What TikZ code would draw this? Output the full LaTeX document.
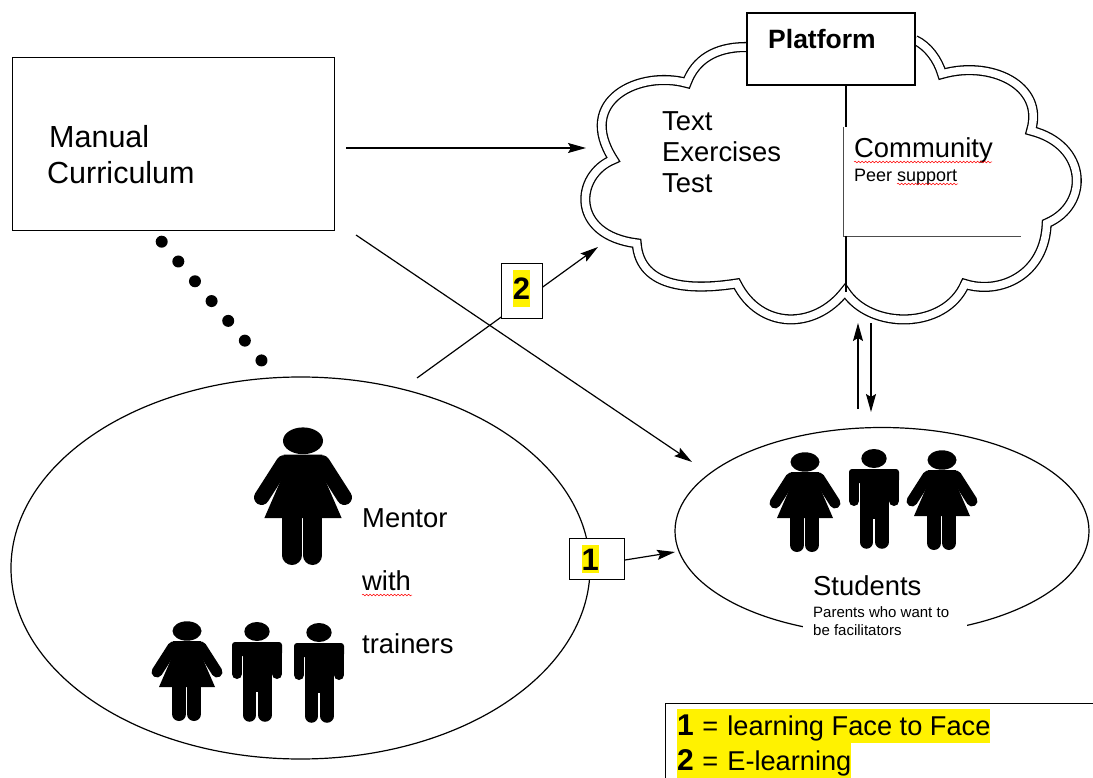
\documentclass[tikz,border=0pt]{standalone}
\usepackage{fontspec}
\setmainfont{Liberation Sans}
\usetikzlibrary{arrows.meta,shapes.geometric,decorations.pathmorphing}
\tikzset{
  bigtxt/.style={anchor=base west,inner sep=0pt,font=\fontsize{27.4}{32}\selectfont},
  smalltxt/.style={anchor=base west,inner sep=0pt,font=\fontsize{15}{18}\selectfont},
  arrow/.style={line width=1.2pt,-{Stealth[length=18pt,width=10pt,inset=3pt]}},
  numbox/.style={draw,fill=white,line width=0.8pt,minimum width=#1,inner sep=0pt},
  numtxt/.style={fill=yellow,inner sep=0pt,anchor=base,font=\fontsize{31}{36}\bfseries\selectfont},
  keyrow/.style={fill=yellow,inner sep=0pt,anchor=base west,text depth=8pt,font=\fontsize{27.2}{32}\selectfont},
  spell/.style={red,line width=0.5pt,decorate,decoration={snake,amplitude=0.8pt,segment length=3.5pt}},
  pics/woman/.style={code={
    \begin{scope}[scale=#1]
    \fill (0,10) ellipse [x radius=14.5,y radius=9.7];
    \fill (-14,20)--(14,20)--(15.7,37.7)--(28,66)--(-28,66)--(-15.7,37.7)--cycle;
    \draw[line width=#1*11pt,line cap=round] (-14,26)--(-30,51);
    \draw[line width=#1*11pt,line cap=round] (14,26)--(30,51);
    \draw[line width=#1*14pt,line cap=round] (-8,60)--(-8,93);
    \draw[line width=#1*14pt,line cap=round] (7,60)--(7,93);
    \end{scope}
  }},
  pics/man/.style={code={
    \begin{scope}[scale=#1]
    \fill (0,9.5) ellipse [x radius=12.7,y radius=9.5];
    \fill[rounded corners=3] (-25,20) rectangle (25,34);
    \fill (-14,25) rectangle (15,70);
    \draw[line width=#1*10pt,line cap=round] (-20,25)--(-20,52);
    \draw[line width=#1*10pt,line cap=round] (20,25)--(20,52);
    \draw[line width=#1*13.5pt,line cap=round] (-7.5,60)--(-7.5,93);
    \draw[line width=#1*13.5pt,line cap=round] (8,60)--(8,93);
    \end{scope}
  }}
}
\begin{document}
\begin{tikzpicture}[x=1pt,y=-1pt]
\useasboundingbox (0,0) rectangle (1093,778);
% cloud
\draw[line width=1.3pt,double=white,double distance=7.5pt,line join=miter]
  (746,47) .. controls (715,47) and (695,60) .. (686.7,83)
  .. controls (640,70) and (575,100) .. (613.3,159.5)
  .. controls (575,175) and (570,235) .. (636.7,243.3)
  .. controls (640,290) and (695,290) .. (736.7,283.5)
  .. controls (760,330) and (815,330) .. (845,291)
  .. controls (870,330) and (945,330) .. (965,284)
  .. controls (1000,295) and (1045,275) .. (1046.7,223.3)
  .. controls (1090,205) and (1088,145) .. (1031,130.7)
  .. controls (1045,85) and (990,60) .. (942,74)
  .. controls (938,60) and (928,46) .. (915,40);
% main shapes
\node[draw,line width=1pt,minimum width=322pt,minimum height=173pt,inner sep=0pt] (curriculum) at (173,144) {};
\node[draw,line width=2pt,fill=white,minimum width=168pt,minimum height=72pt,inner sep=0pt] (platform) at (831,49) {};
\node[draw,ellipse,line width=1.2pt,minimum width=579pt,minimum height=382pt,inner sep=0pt] (mentors) at (300.5,568) {};
\node[draw,ellipse,line width=1.2pt,minimum width=414pt,minimum height=207pt,inner sep=0pt] (students) at (882,531) {};
\node[fill=white,minimum width=164pt,minimum height=60pt,inner sep=0pt] (gap) at (885,620) {};
% community
\coordinate (commtop) at (843,127);
\coordinate (commcorner) at (843,236);
\coordinate (commend) at (1021,236);
\draw[line width=0.8pt,black!70] (commtop)--(commcorner)--(commend);
\coordinate (divtop) at (846,85);
\coordinate (divmid) at (846,127);
\coordinate (divlow) at (846,236);
\coordinate (divend) at (846,292);
\draw[line width=2pt] (divtop)--(divmid);
\draw[line width=2pt] (divlow)--(divend);
% arrows
\coordinate (a1) at (346,148);
\coordinate (a2) at (586,148);
\draw[arrow] (a1)--(a2);
\coordinate (b1) at (356,235);
\coordinate (b2) at (692,462);
\draw[arrow] (b1)--(b2);
\coordinate (c1) at (417,378);
\coordinate (c2) at (598,247);
\draw[arrow] (c1)--(c2);
\coordinate (d1) at (625,560);
\coordinate (d2) at (675,552);
\draw[arrow] (d1)--(d2);
\coordinate (e1) at (858,409);
\coordinate (e2) at (858,323);
\draw[arrow] (e1)--(e2);
\coordinate (f1) at (871,323);
\coordinate (f2) at (871,412);
\draw[arrow] (f1)--(f2);
\coordinate (dotA) at (161.7,241.7);
\coordinate (dotB) at (261.7,360.7);
\draw[line width=12pt,line cap=round,dash pattern=on 0pt off 25.85pt] (dotA)--(dotB);
% number boxes
\node[numbox=41.3pt,minimum height=54.3pt] (two) at (521.7,291) {};
\node[numtxt,text height=29pt,text depth=8pt] (twotxt) at (521.5,299) {2};
\node[numbox=54.7pt,minimum height=40.7pt] (one) at (596.7,558.7) {};
\node[numtxt,text height=26pt,text depth=2pt] (onetxt) at (590.3,570.7) {1};
% people
\pic at (303,427) {woman=1.38};
\pic at (187,621) {woman=1};
\pic at (257,622) {man=1};
\pic at (319,623) {man=1};
\pic at (805,452) {woman=1};
\pic at (874,449) {man=1};
\pic at (942,450) {woman=1};
% text
\node[bigtxt,font=\fontsize{30.5}{36}\selectfont] (manual) at (49,148) {Manual};
\node[bigtxt,font=\fontsize{30.5}{36}\selectfont] (curr) at (47,184) {Curriculum};
\node[bigtxt,font=\fontsize{26.5}{32}\bfseries\selectfont] (plat) at (768,49) {Platform};
\node[bigtxt] (text) at (662,131) {Text};
\node[bigtxt] (exer) at (662,162) {Exercises};
\node[bigtxt] (test) at (662,193) {Test};
\node[bigtxt] (comm) at (854,158) {Community};
\node[smalltxt,font=\fontsize{18}{21}\selectfont] (peer) at (854,182) {Peer support};
\node[bigtxt] (mentor) at (362,527) {Mentor};
\node[bigtxt] (with) at (362,590) {with};
\node[bigtxt] (trainers) at (362,653) {trainers};
\node[bigtxt] (stud) at (813,595) {Students};
\node[smalltxt] (par) at (813,617) {Parents who want to};
\node[smalltxt] (fac) at (813,635) {be facilitators};
\draw[spell] (comm.base west)++(0,4)--++(138,0);
\draw[spell] (peer.base west)++(43,2)--++(61,0);
\draw[spell] (with.base west)++(0,5)--++(50,0);
% legend
\coordinate (keyA) at (1093,703);
\coordinate (keyB) at (665,703);
\coordinate (keyC) at (665,778);
\draw[line width=0.8pt] (keyA)--(keyB)--(keyC);
\node[keyrow,text height=26pt] (key1) at (677,735) {{\fontsize{30}{36}\bfseries\selectfont 1}\hspace{1pt} = \hspace{1.5pt}learning Face to Face};
\node[keyrow,text height=27pt] (key2) at (677,770) {{\fontsize{30}{36}\bfseries\selectfont 2}\hspace{1pt} = \hspace{1.5pt}E-learning};
\end{tikzpicture}
\end{document}
